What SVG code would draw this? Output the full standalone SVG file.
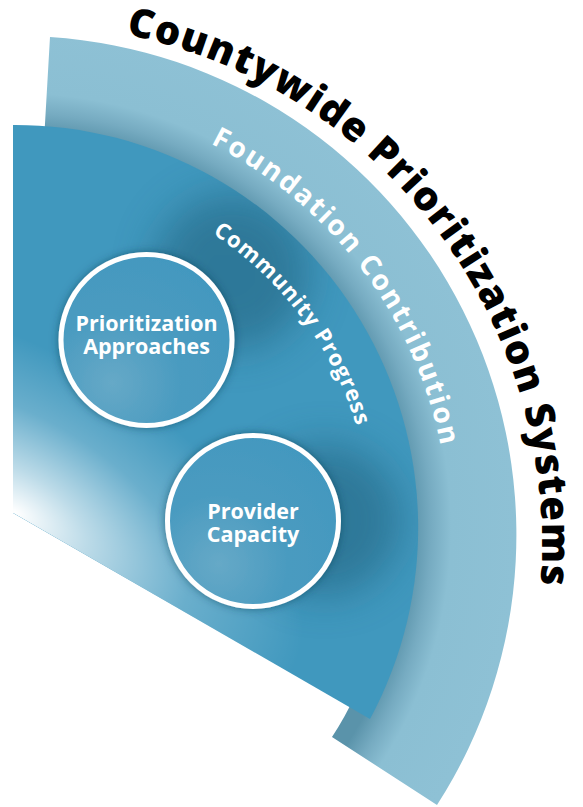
<svg xmlns="http://www.w3.org/2000/svg" width="583" height="807" viewBox="0 0 583 807">
<defs>
<style>
.title{font-family:"Open Sans","Liberation Sans",sans-serif;font-weight:800;font-size:40px;fill:#000}
.band{font-family:"Open Sans","Liberation Sans",sans-serif;font-weight:700;fill:#fff}
.lbl{font-family:"Open Sans","Liberation Sans",sans-serif;font-weight:700;font-size:21.5px;fill:#fff;text-anchor:middle}
.ring{stroke:#fff;stroke-width:5}
</style>
<radialGradient id="lightG" gradientUnits="userSpaceOnUse" cx="16" cy="528" r="500">
<stop offset="0" stop-color="#5a93aa"/>
<stop offset="0.79" stop-color="#5a93aa"/>
<stop offset="0.83" stop-color="#76abc1"/>
<stop offset="0.87" stop-color="#8bbfd3"/>
<stop offset="1" stop-color="#8ec1d5"/>
</radialGradient>
<radialGradient id="glow" gradientUnits="userSpaceOnUse" cx="0" cy="0" r="1" gradientTransform="translate(15,512) rotate(30) scale(320,160)">
<stop offset="0" stop-color="#fff" stop-opacity="1"/>
<stop offset="0.25" stop-color="#fff" stop-opacity="0.65"/>
<stop offset="0.6" stop-color="#fff" stop-opacity="0.22"/>
<stop offset="1" stop-color="#fff" stop-opacity="0"/>
</radialGradient>
<radialGradient id="circG" cx="0.3" cy="0.75" r="0.8">
<stop offset="0" stop-color="#66a9c7"/>
<stop offset="0.5" stop-color="#4a9bc0"/>
<stop offset="1" stop-color="#4398bf"/>
</radialGradient>
<clipPath id="darkClip"><path d="M13,125 A403,403 0 0 1 370,719 L13,513 Z"/></clipPath>
<filter id="soft" x="-50%" y="-50%" width="200%" height="200%"><feGaussianBlur stdDeviation="20"/></filter>
<filter id="drop" x="-20%" y="-20%" width="140%" height="140%"><feDropShadow dx="0" dy="0" stdDeviation="4" flood-color="#0d3b50" flood-opacity="0.55"/></filter>
<path id="pTitle" d="M125.7,34.5 A520,520 0 0 1 510.6,721.8"/>
<path id="pFound" d="M210.4,143.7 A432,432 0 0 1 449,530"/>
<path id="pComm" d="M212.4,233.6 A355,355 0 0 1 372,530"/>
</defs>

<g id="outer-band">
<path d="M50,37 A499,499 0 0 1 437,805 L332,737 A376,376 0 0 0 43,158 Z" fill="url(#lightG)"/>
</g>

<g id="inner-sector">
<path d="M13,125 A403,403 0 0 1 370,719 L13,513 Z" fill="#4098be"/>
<g clip-path="url(#darkClip)">
<circle cx="232" cy="272" r="78" fill="#1e5a75" opacity="0.5" filter="url(#soft)"/>
<circle cx="325" cy="520" r="76" fill="#1e5a75" opacity="0.5" filter="url(#soft)"/>
<path d="M13,125 A403,403 0 0 1 370,719 L13,513 Z" fill="url(#glow)"/>
</g>
</g>

<g id="labels">
<text class="title"><textPath href="#pTitle" textLength="753" lengthAdjust="spacing">Countywide Prioritization Systems</textPath></text>
<text class="band" font-size="28"><textPath href="#pFound" textLength="393" lengthAdjust="spacing">Foundation Contribution</textPath></text>
<text class="band" font-size="22"><textPath href="#pComm" textLength="245" lengthAdjust="spacing">Community Progress</textPath></text>
</g>

<g id="prioritization-approaches">
<circle cx="146.5" cy="340" r="85.5" fill="url(#circG)" class="ring" filter="url(#drop)"/>
<text class="lbl" x="146.5" y="331">Prioritization</text>
<text class="lbl" x="146.5" y="354">Approaches</text>
</g>

<g id="provider-capacity">
<circle cx="253" cy="521" r="85.5" fill="url(#circG)" class="ring" filter="url(#drop)"/>
<text class="lbl" x="253" y="519">Provider</text>
<text class="lbl" x="253" y="542">Capacity</text>
</g>

<g id="connectors"></g>
</svg>
